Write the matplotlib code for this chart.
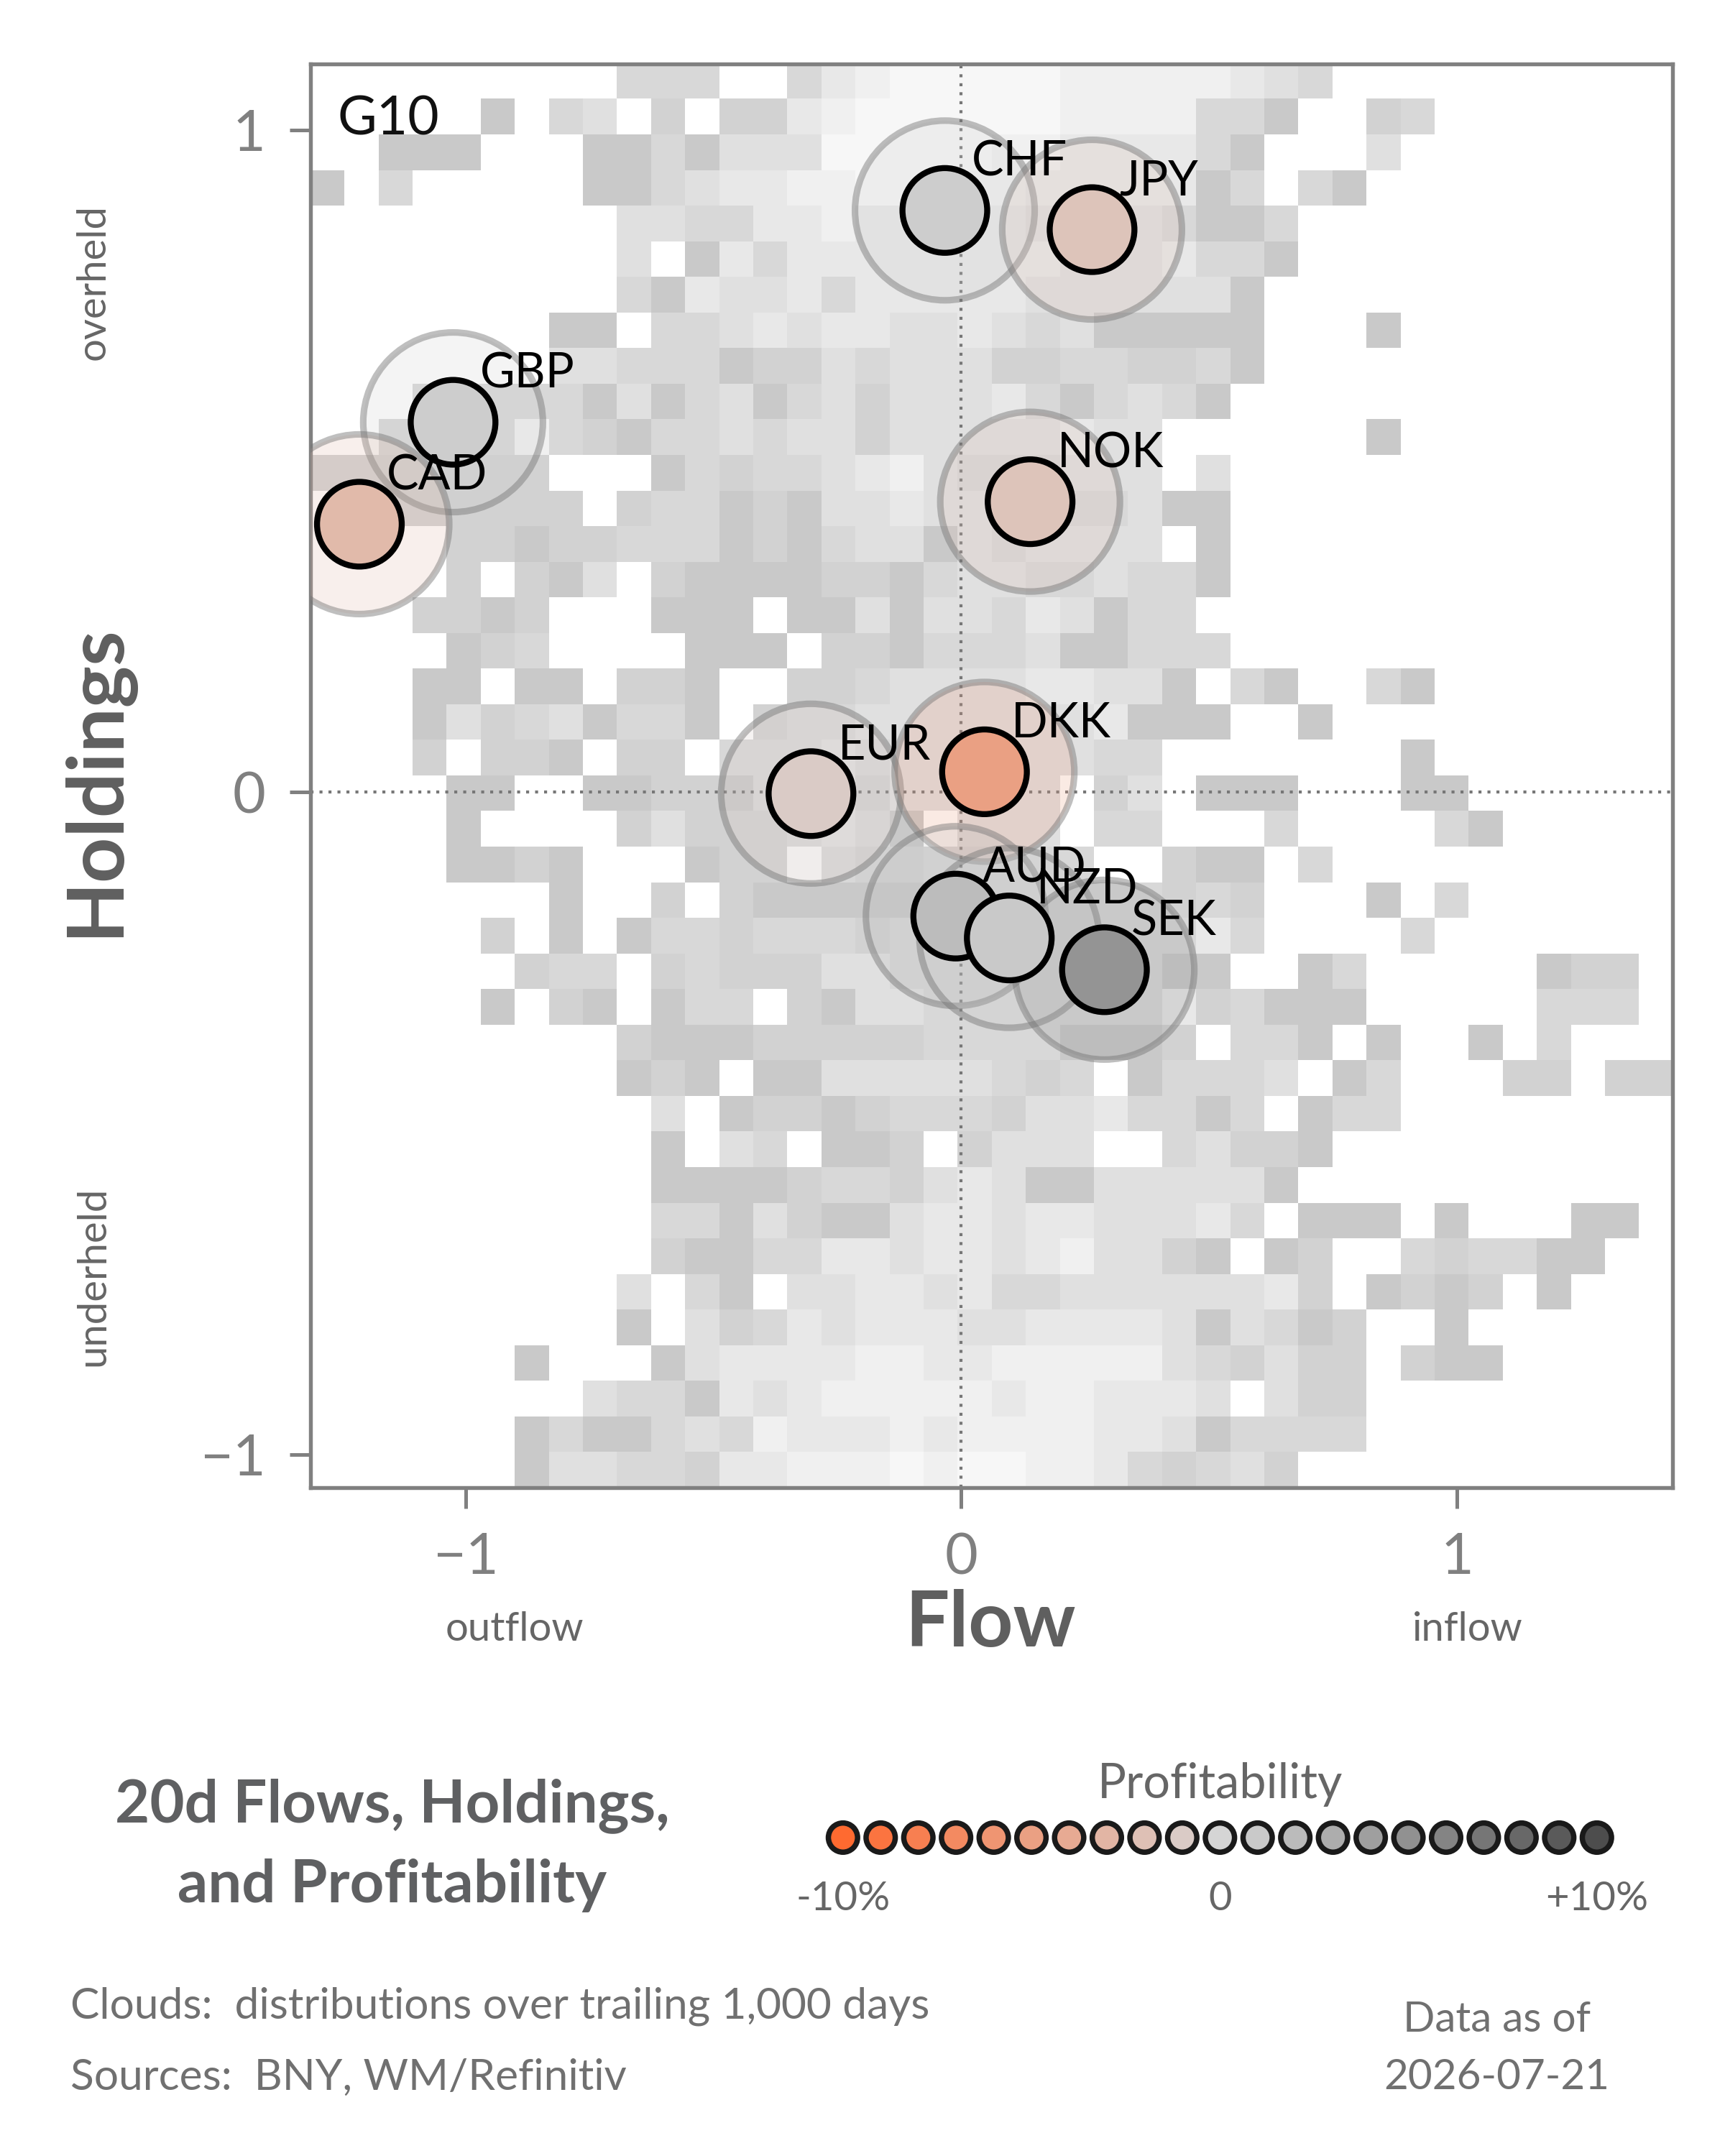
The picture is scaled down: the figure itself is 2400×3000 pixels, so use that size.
import numpy as np
import matplotlib
matplotlib.use("Agg")
import matplotlib.pyplot as plt
from matplotlib.colors import ListedColormap, BoundaryNorm, LinearSegmentedColormap, Normalize

plt.rcParams['font.family'] = ['Lato', 'DejaVu Sans']

# currencies: flow (x), holdings (y), profitability (%)
currencies = ['CHF', 'JPY', 'GBP', 'CAD', 'NOK', 'EUR', 'DKK', 'AUD', 'NZD', 'SEK']
flow = [-0.033, 0.264, -1.025, -1.214, 0.139, -0.303, 0.047, -0.011, 0.097, 0.289]
holdings = [0.879, 0.850, 0.559, 0.405, 0.439, -0.002, 0.031, -0.187, -0.220, -0.268]
profit = [0.7, -1.7, 0.7, -2.6, -1.7, -1.0, -5.0, 1.9, 1.0, 4.8]

xlim = (-1.3126, 1.435)
ylim = (-1.0504, 1.1005)

# cloud density (top row first); '.' empty, a..g = sparse..dense
cloud_rows = [
    ".........ccc..cefggg" + "ggfffffedc..........",
    ".....a.cd.b.bbefgggg" + "ggffffcca..bc.......",
    "..aaa...aacadddggggg" + "ffeeeeca...d........",
    "a.c.....aacdeeffggff" + "feeeeeac.ca.........",
    ".........ddcceefeeee" + "eddddcaac...........",
    ".........d.aeceeeeee" + "eedddecca...........",
    ".........caeddeceeee" + "edddddda............",
    ".......aa.ccdedeedde" + "dcdaaaaa...a........",
    ".......ddcccabbdcddd" + "bbccbbca............",
    "...cccccadacdacdbddd" + "ecacdca.............",
    "..ccccfcbaccdcddbddd" + "ddedd......a........",
    "bbbbbbb...acbccdefdc" + "ccddd.d.............",
    "..bbbbbb.bccabaddedd" + "ccccdaa.............",
    "....bbabbcccabacddad" + "cdddd.a.............",
    "....b.bad.baaaabbacd" + "dccdcca.............",
    "...bbab...aaa.aadadd" + "cedacc..............",
    "....abc....aaa.bbacc" + "cdaaccc.............",
    "...aa.aa.bba..bbcddd" + "deedda.ca..ca.......",
    "...adbcdacca.bccdddd" + "dddeaaa..a..........",
    "...b.bba.bb.cccdcddd" + "dddcc.......a.......",
    "....aa..aabbaccdbddd" + "dd.bd.aaa...aa......",
    "....a....bdbbbcdca.d" + "dd.cc...c....ca.....",
    "....aaba...abbgcbbcc" + "ccc..baa.c..........",
    ".......a..b.baaaaacc" + "cccccbcb...a.c......",
    ".....b.a.accbcccbccc" + "ccccccec....c.......",
    "......bcc.bcbbbddccc" + "cccccaa..ac.....abb.",
    ".....a.ba.acc.baddcc" + "cccccebcaaa.....ccc.",
    ".........baaabbbbbcc" + "ccaaab.cca.a..a.c...",
    ".........aba.aaddddd" + "cbc.acccd.ac...bb.bb",
    "..........d.abbabccc" + "bddeccac.acc........",
    "..........a.dc.aab.b" + "ddd..cdbba..........",
    "..........aaaabccbde" + "daaddddda...........",
    "..........ccadbaadee" + "deedddec.aaa.a...aa.",
    "..........baacceedee" + "defddba.ab..cbccaa..",
    ".........d.ca.ddeede" + "ccddddddeb.abab.a...",
    ".........a.dbcedeeed" + "deeeedadcab..a......",
    "......a...adeeeeffee" + "fffffdcbdbb.baa.....",
    "........dccaedefffff" + "effeeed.dbb.........",
    "......acaacdcfeeefef" + "fffeedacccc.........",
    "......addccbeefffgfg" + "gffecbcdb...........",
]
cloud_levels = '.abcdefg'
cloud_colors = ['#c9c9c9', '#d2d2d2', '#d8d8d8', '#e0e0e0', '#e8e8e8', '#f0f0f0', '#f7f7f7']

legend_steps = list(range(-10, 11))

grid = np.array([[cloud_levels.index(ch) for ch in row] for row in cloud_rows], dtype=float)
grid = np.ma.masked_equal(grid, 0)

profit_cmap = LinearSegmentedColormap.from_list('profit', ['#ff6a30', '#d6d6d6', '#4d4d4d'])
profit_norm = Normalize(-10, 10)

fig = plt.figure(figsize=(8, 10), dpi=300)
ax = fig.add_axes([0.18, 0.31, 0.7896, 0.6604])

ax.imshow(grid, extent=(xlim[0], xlim[1], ylim[0], ylim[1]), origin='upper',
          cmap=ListedColormap(cloud_colors), norm=BoundaryNorm(np.arange(0.5, 8.5), 7),
          interpolation='nearest', aspect='auto', zorder=1)

ax.axvline(0, color='#777777', lw=1.0, ls=(0, (1, 2)), zorder=2)
ax.axhline(0, color='#777777', lw=1.0, ls=(0, (1, 2)), zorder=2)

cols = profit_cmap(profit_norm(np.array(profit)))
halo_face = cols.copy()
halo_face[:, 3] = 0.22
ax.scatter(flow, holdings, s=3600, facecolors=halo_face,
           edgecolors=[(0.45, 0.45, 0.45, 0.45)], linewidths=2.2, zorder=3)
ax.scatter(flow, holdings, s=800, facecolors=cols, edgecolors='black',
           linewidths=2.0, zorder=4)

for name, x, y in zip(currencies, flow, holdings):
    ax.annotate(name, (x, y), xytext=(9, 11.5), textcoords='offset points',
                ha='left', va='baseline', fontsize=16, color='black', zorder=5)

ax.text(0.02, 0.95, 'G10', transform=ax.transAxes, fontsize=18, color='#111111',
        ha='left', va='baseline', zorder=5)

ax.set_xlim(xlim)
ax.set_ylim(ylim)
ax.set_xticks([-1, 0, 1])
ax.set_yticks([-1, 0, 1])
ax.tick_params(colors='#808080', labelcolor='#808080', labelsize=19, length=7, width=1.2, pad=8)
for sp in ax.spines.values():
    sp.set_color('#808080')
    sp.set_linewidth(1.3)

# axis labels and side notes
fig.text(0.574, 0.2468, 'Flow', fontsize=26, fontweight='bold', color='#5f5f5f', ha='center', va='center')
fig.text(0.0558, 0.6378, 'Holdings', fontsize=26.5, fontweight='bold', color='#5f5f5f',
         ha='center', va='center', rotation=90)
fig.text(0.2982, 0.2443, 'outflow', fontsize=13.5, color='#666666', ha='center', va='center')
fig.text(0.8509, 0.2443, 'inflow', fontsize=13.5, color='#666666', ha='center', va='center')
fig.text(0.0542, 0.8693, 'overheld', fontsize=13.5, color='#666666', ha='center', va='center', rotation=90)
fig.text(0.0542, 0.4082, 'underheld', fontsize=13.5, color='#666666', ha='center', va='center', rotation=90)

# title
fig.text(0.2273, 0.1626, '20d Flows, Holdings,', fontsize=20, fontweight='bold', color='#5f6062',
         ha='center', va='center')
fig.text(0.2273, 0.1256, 'and Profitability', fontsize=20, fontweight='bold', color='#5f6062',
         ha='center', va='center')

# profitability legend
lax = fig.add_axes([0.4583, 0.1067, 0.5, 0.0833])
lax.set_xlim(-11.39, 11.49)
lax.set_ylim(0, 1)
lax.axis('off')
lax.scatter(legend_steps, [0.492] * len(legend_steps), s=95, c=legend_steps, cmap=profit_cmap,
            norm=profit_norm, edgecolors='#1a1a1a', linewidths=1.8)
lax.text(0, 0.788, 'Profitability', fontsize=16, color='#666666', ha='center', va='center')
lax.text(-10, 0.148, '-10%', fontsize=13.5, color='#666666', ha='center', va='center')
lax.text(0, 0.148, '0', fontsize=13.5, color='#666666', ha='center', va='center')
lax.text(10, 0.148, '+10%', fontsize=13.5, color='#666666', ha='center', va='center')

# footer
fig.text(0.0407, 0.0695, 'Clouds:  distributions over trailing 1,000 days', fontsize=14.5,
         color='#707070', ha='left', va='center')
fig.text(0.0407, 0.0364, 'Sources:  BNY, WM/Refinitiv', fontsize=14.5,
         color='#707070', ha='left', va='center')
fig.text(0.8676, 0.0631, 'Data as of', fontsize=14, color='#707070', ha='center', va='center')
fig.text(0.8676, 0.0364, '2026-07-21', fontsize=14, color='#707070', ha='center', va='center')

fig.savefig('out.png', dpi=300)
plt.close(fig)
